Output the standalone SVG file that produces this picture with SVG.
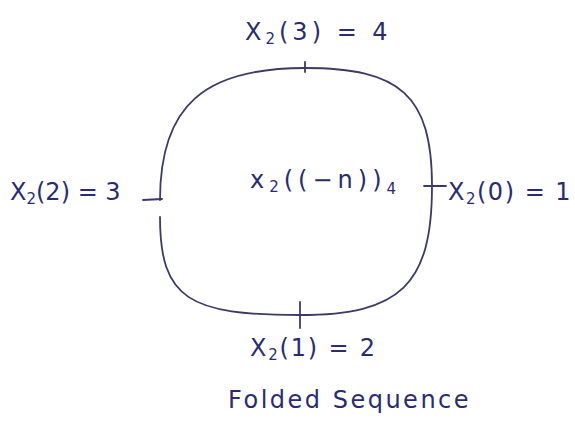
<svg xmlns="http://www.w3.org/2000/svg" width="575" height="427" viewBox="0 0 575 427">
<style>
.ink{fill:none;stroke:#3b3b66;stroke-width:1.8;stroke-linecap:round}
.t{font-family:"DejaVu Sans",sans-serif;fill:#2b2b6e;font-size:24px}
</style>
<rect width="575" height="427" fill="#ffffff"/>
<g id="connectors">
<path class="ink" d="M305 68 C400 68 432 95 432 186 C432 285 400 315 300 315 C190 315 160 300 160 217"/>
<path class="ink" d="M160 200 C160 105 205 68 305 68"/>
<path class="ink" d="M143 200 L162 199"/>
<path class="ink" d="M424 186 L446 186"/>
<path class="ink" d="M305 62 L305 72"/>
<path class="ink" d="M300 302 L300 328"/>
</g>
<g id="node-top"><text class="t" x="245" y="40" font-size="26" letter-spacing="4">X<tspan font-size="15" dy="4">2</tspan><tspan dy="-4">(3) = 4</tspan></text></g>
<g id="node-left"><text class="t" x="10" y="200">X<tspan font-size="15" dy="4">2</tspan><tspan dy="-4">(2) = 3</tspan></text></g>
<g id="node-center"><text class="t" x="250" y="188" letter-spacing="5">x<tspan font-size="15" dy="4">2</tspan><tspan dy="-4">((−n))</tspan><tspan font-size="15" dy="6">4</tspan></text></g>
<g id="node-right"><text class="t" x="448" y="200" letter-spacing="1.5">X<tspan font-size="15" dy="4">2</tspan><tspan dy="-4">(0) = 1</tspan></text></g>
<g id="node-bottom"><text class="t" x="250" y="356" letter-spacing="1.8">X<tspan font-size="15" dy="4">2</tspan><tspan dy="-4">(1) = 2</tspan></text></g>
<g id="caption"><text class="t" x="228" y="408" letter-spacing="2.5">Folded Sequence</text></g>
</svg>
